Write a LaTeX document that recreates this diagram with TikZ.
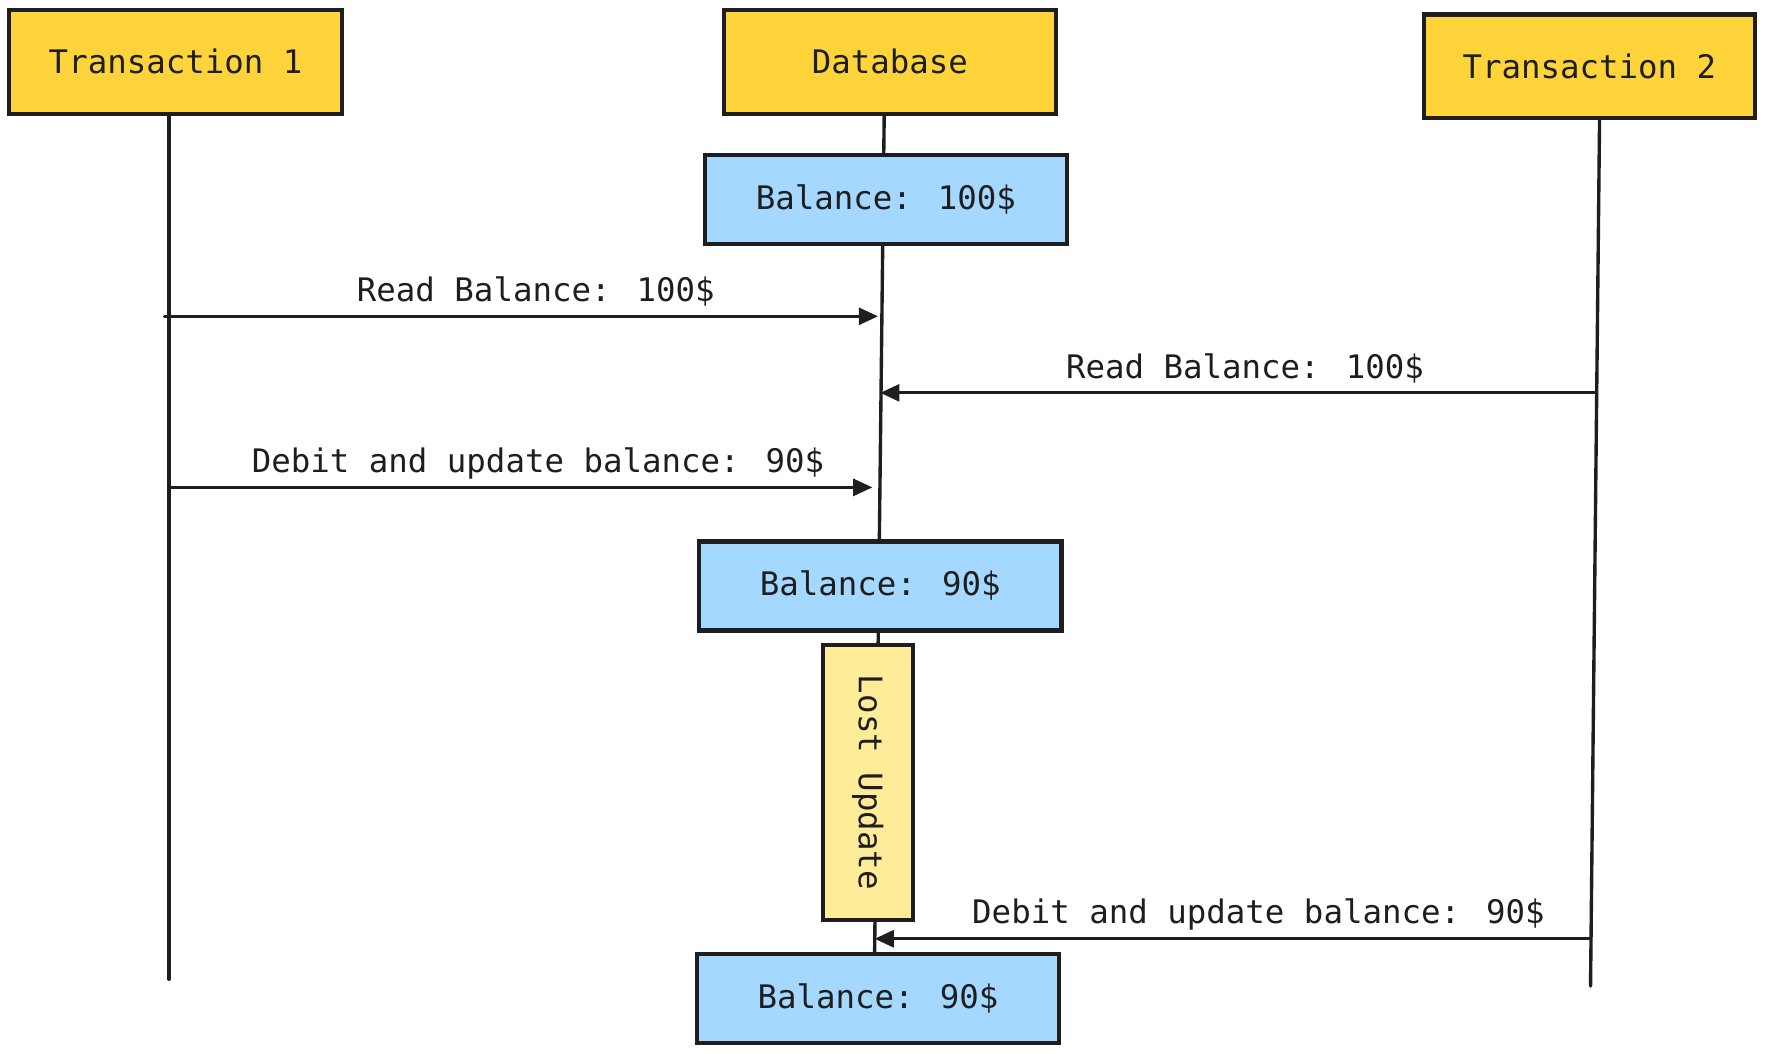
\documentclass[tikz,border=0pt]{standalone}
\usepackage{fontspec}
\newfontfamily\handfont{DejaVu Sans Mono}
\usetikzlibrary{arrows.meta,calc,backgrounds}
\definecolor{ink}{HTML}{1E1E1E}
\definecolor{gold}{HTML}{FFD43B}
\definecolor{sky}{HTML}{A5D8FF}
\definecolor{paleyellow}{HTML}{FFEC99}
\tikzset{
  txt/.style={font=\handfont\fontsize{14.4}{17}\selectfont, text=ink},
  boxbase/.style={txt, draw=ink, line width=1.9pt, inner sep=0pt, rectangle},
  actor/.style={boxbase, fill=gold},
  state/.style={boxbase, fill=sky, minimum width=161pt, minimum height=39.5pt},
  note/.style={boxbase, fill=paleyellow},
  life/.style={draw=ink, line width=1.5pt, line cap=round},
  msg/.style={draw=ink, line width=1.4pt, line cap=round, -{Triangle[length=8.5pt,width=7.5pt]}},
  lbl/.style={txt, anchor=base, inner sep=0pt}
}
\begin{document}
\begin{tikzpicture}[x=0.5pt,y=-0.5pt]
\useasboundingbox (0,0) rectangle (1568,936);
% actor boxes
\node[actor, minimum width=148pt, minimum height=46pt] (t1) at (156,55) {Transaction 1};
\node[actor, minimum width=147.5pt, minimum height=46pt] (db) at (790.5,55) {Database};
\node[actor, minimum width=147pt, minimum height=46pt] (t2) at (1412,59) {Transaction 2};
% database states
\node[state] (bal1) at (787,177.5) {Balance: 100\$};
\node[state] (bal2) at (782,520.5) {Balance: 90\$};
\node[note, minimum width=40pt, minimum height=122pt] (lost) at (771,695) {};
\node[txt, rotate=-90, inner sep=0pt] (losttxt) at (lost.center) {Lost Update};
\node[state] (bal3) at (780,887) {Balance: 90\$};
% lifelines
\coordinate (t1bot) at (150,870);
\coordinate (t2bot) at (1413,876);
\begin{scope}[on background layer]
  \draw[life] (t1.south -| t1bot) -- (t1bot);
  \draw[life] ($(t2.south)+(9,0)$) -- (t2bot);
  \draw[life] ($(db.south)+(-5,0)$) -- ($(bal3.north)+(-3,0)$);
\end{scope}
% messages
\coordinate (a1s) at (146,281); \coordinate (a1e) at (780,281);
\coordinate (a2s) at (1417,349); \coordinate (a2e) at (782,349);
\coordinate (a3s) at (150,433); \coordinate (a3e) at (775,433);
\coordinate (a4s) at (1413,834); \coordinate (a4e) at (777,834);
\draw[msg] (a1s) -- (a1e);
\draw[msg] (a2s) -- (a2e);
\draw[msg] (a3s) -- (a3e);
\draw[msg] (a4s) -- (a4e);
\node[lbl] (l1) at (476,268) {Read Balance: 100\$};
\node[lbl] (l2) at (1106,336) {Read Balance: 100\$};
\node[lbl] (l3) at (478,420) {Debit and update balance: 90\$};
\node[lbl] (l4) at (1118,820) {Debit and update balance: 90\$};
\end{tikzpicture}
\end{document}
